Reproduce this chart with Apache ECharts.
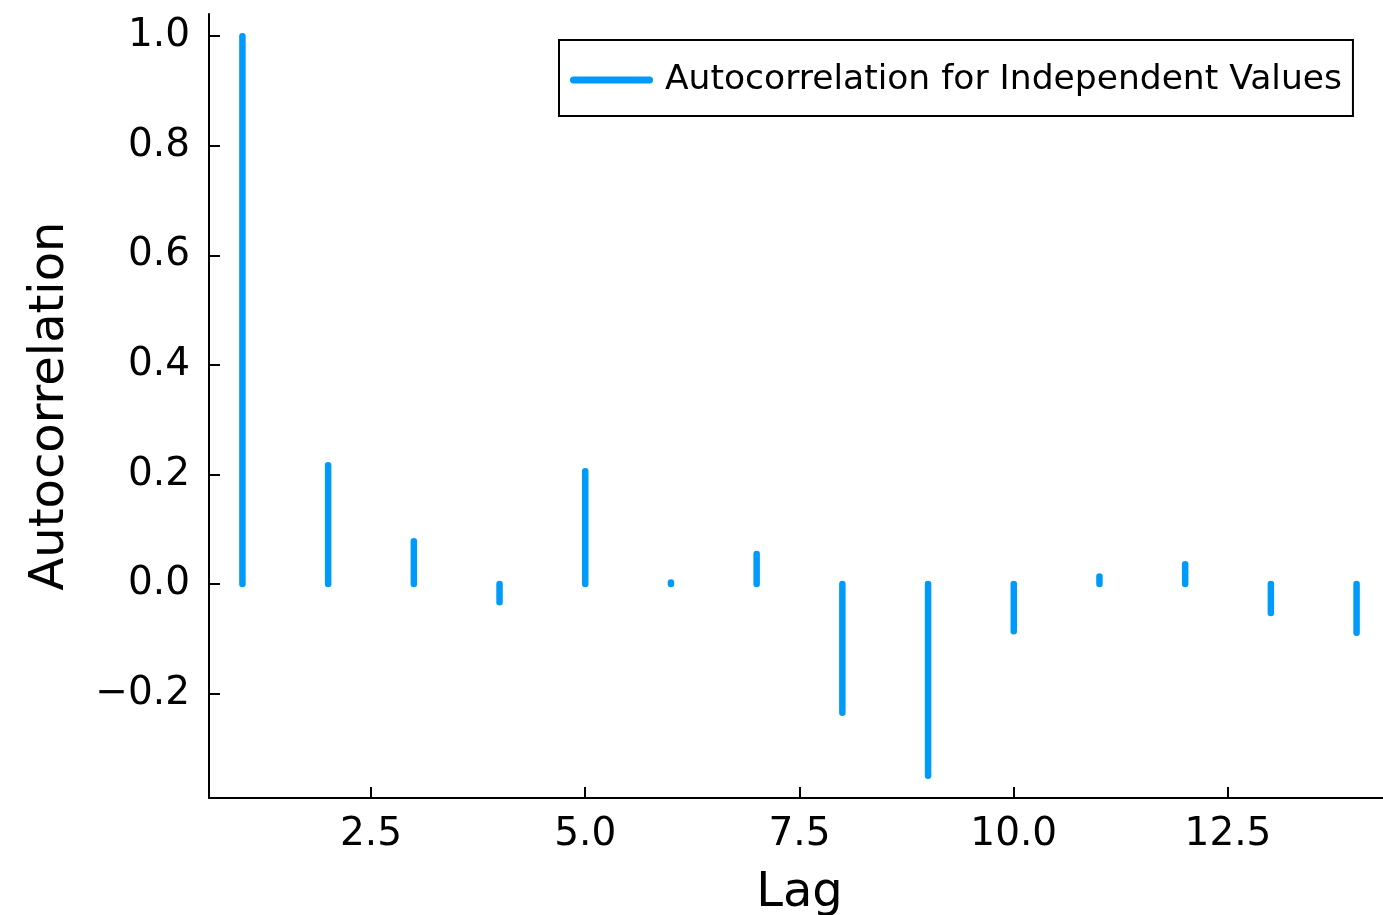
<!DOCTYPE html>
<html>
<head>
<meta charset="utf-8">
<title>Autocorrelation</title>
<script src="https://cdn.jsdelivr.net/npm/echarts@6/dist/echarts.min.js"></script>
<style>
  html, body { margin: 0; padding: 0; background: #fff; }
  #chart { width: 1383px; height: 915px; }
</style>
</head>
<body>
<div id="chart"></div>
<script>
// Lags and their autocorrelation estimates
const lags = [1, 2, 3, 4, 5, 6, 7, 8, 9, 10, 11, 12, 13, 14];
const acf = [1.0, 0.217, 0.078, -0.033, 0.206, 0.003, 0.055, -0.235, -0.350, -0.086, 0.014, 0.036, -0.053, -0.089];

// Tick positions
const xTicks = [2.5, 5.0, 7.5, 10.0, 12.5];
const yTicks = [-0.2, 0.0, 0.2, 0.4, 0.6, 0.8, 1.0];

const seriesName = 'Autocorrelation for Independent Values';
const stemColor = '#009AFA';
const FONT = '"DejaVu Sans", sans-serif';

// Axis limits padded by 3% of the data range on each side
const xLo = Math.min(...lags), xHi = Math.max(...lags);
const yLo = Math.min(0, ...acf), yHi = Math.max(...acf);
const xPad = (xHi - xLo) * 0.03, yPad = (yHi - yLo) * 0.03;

const fmt = v => {
  const s = Math.abs(v).toFixed(1);
  return v < -1e-9 ? '\u2212' + s : s;
};

const chart = echarts.init(document.getElementById('chart'), null, { renderer: 'canvas' });

chart.setOption({
  backgroundColor: '#ffffff',
  animation: false,
  textStyle: { fontFamily: FONT },
  // the plot area runs a few pixels past the right edge of the canvas
  grid: { left: 209, top: 14, width: 1181, height: 784, containLabel: false, outerBoundsMode: 'none' },
  legend: {
    left: 559,
    top: 40,
    padding: [22, 11, 18, 11],
    borderColor: '#000',
    borderWidth: 2,
    borderRadius: 0,
    backgroundColor: '#fff',
    itemWidth: 83,
    itemHeight: 7,
    icon: 'path://M3.5,0 H79.5 A3.5,3.5 0 0 1 79.5,7 H3.5 A3.5,3.5 0 0 1 3.5,0 Z',
    itemStyle: { color: stemColor },
    textStyle: { fontFamily: FONT, fontSize: 34.5, color: '#000', padding: [0, 0, 0, 7], lineHeight: 36 },
    data: [seriesName]
  },
  xAxis: {
    type: 'value',
    min: xLo - xPad,
    max: xHi + xPad,
    name: 'Lag',
    nameLocation: 'middle',
    nameGap: 72,
    nameTextStyle: { fontFamily: FONT, fontSize: 48, color: '#000' },
    axisLine: { show: true, onZero: false, lineStyle: { color: '#000', width: 2 } },
    axisTick: { show: true, inside: true, length: 11, customValues: xTicks, lineStyle: { color: '#000', width: 2 } },
    axisLabel: { customValues: xTicks, formatter: fmt, fontFamily: FONT, fontSize: 39, color: '#000', margin: 17 },
    splitLine: { show: false }
  },
  yAxis: {
    type: 'value',
    min: yLo - yPad,
    max: yHi + yPad,
    name: 'Autocorrelation',
    nameLocation: 'middle',
    nameGap: 134,
    nameTextStyle: { fontFamily: FONT, fontSize: 48, color: '#000' },
    axisLine: { show: true, onZero: false, lineStyle: { color: '#000', width: 2 } },
    axisTick: { show: true, inside: true, length: 11, customValues: yTicks, lineStyle: { color: '#000', width: 2 } },
    axisLabel: { customValues: yTicks, formatter: fmt, fontFamily: FONT, fontSize: 39, color: '#000', margin: 19 },
    splitLine: { show: false }
  },
  series: [{
    name: seriesName,
    type: 'custom',
    itemStyle: { color: stemColor },
    data: lags.map((l, i) => [l, acf[i]]),
    encode: { x: 0, y: 1 },
    renderItem: (params, api) => {
      const base = api.coord([api.value(0), 0]);
      const tip = api.coord([api.value(0), api.value(1)]);
      return {
        type: 'line',
        shape: { x1: base[0], y1: base[1], x2: tip[0], y2: tip[1] },
        style: { stroke: stemColor, lineWidth: 6.5, lineCap: 'round' }
      };
    }
  }]
});
</script>
</body>
</html>
